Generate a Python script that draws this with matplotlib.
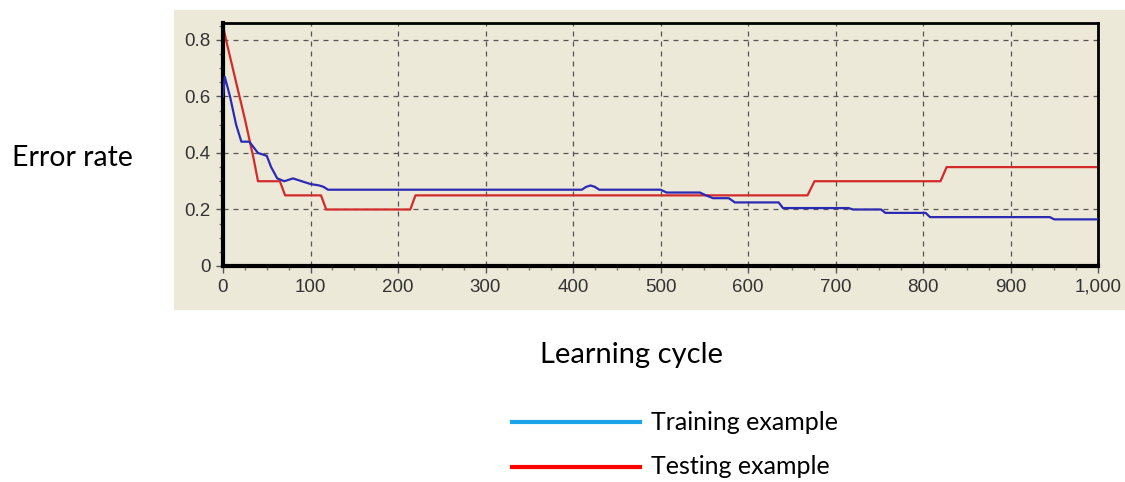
import matplotlib.pyplot as plt
from matplotlib.patches import Rectangle
from matplotlib.lines import Line2D
from matplotlib.ticker import FuncFormatter, MultipleLocator

# training curve (blue)
train_x = [0, 2, 8, 15, 21, 30, 35, 40, 50, 55, 62, 70, 80, 90, 100, 110, 115, 120,
           410, 415, 420, 425, 430, 500, 507, 545, 552, 560, 578, 585, 635, 640,
           715, 720, 752, 757, 803, 808, 945, 950, 1000]
train_y = [0.60, 0.67, 0.60, 0.50, 0.44, 0.44, 0.42, 0.40, 0.39, 0.35, 0.31, 0.30, 0.31, 0.30, 0.29, 0.285, 0.28, 0.27,
           0.27, 0.28, 0.285, 0.28, 0.27, 0.27, 0.26, 0.26, 0.25, 0.24, 0.24, 0.225, 0.225, 0.205,
           0.205, 0.20, 0.20, 0.188, 0.188, 0.173, 0.173, 0.165, 0.165]

# testing curve (red)
test_x = [0, 5, 15, 25, 35, 40, 65, 71, 112, 118, 214, 220, 668, 676, 820, 827, 1000]
test_y = [0.85, 0.78, 0.65, 0.52, 0.38, 0.30, 0.30, 0.25, 0.25, 0.20, 0.20, 0.25, 0.25, 0.30, 0.30, 0.35, 0.35]

x_ticks = [0, 100, 200, 300, 400, 500, 600, 700, 800, 900, 1000]
y_ticks = [0, 0.2, 0.4, 0.6, 0.8]
labels = ["Training example", "Testing example"]

panel = "#ECE9D8"
W, H = 1125, 482
fig = plt.figure(figsize=(W / 100, H / 100), dpi=100)
fig.patch.set_facecolor("white")

# beige panel behind the chart
fig.add_artist(Rectangle((174 / W, 1 - 310 / H), (W - 174) / W, 300 / H,
                         transform=fig.transFigure, facecolor=panel, edgecolor="none", zorder=0))

ax = fig.add_axes([223 / W, 1 - 266 / H, (1098 - 223) / W, (266 - 23) / H])
ax.set_facecolor(panel)
ax.plot(train_x, train_y, color="#2a2ab4", lw=1.6, zorder=3)
ax.plot(test_x, test_y, color="#d42a2a", lw=1.6, zorder=2)

ax.set_xlim(0, 1000)
ax.set_ylim(0, 0.86)
ax.set_xticks(x_ticks)
ax.set_yticks(y_ticks)
ax.xaxis.set_minor_locator(MultipleLocator(25))
ax.yaxis.set_minor_locator(MultipleLocator(0.05))
ax.xaxis.set_major_formatter(FuncFormatter(lambda v, p: f"{int(v):,}"))
ax.yaxis.set_major_formatter(FuncFormatter(lambda v, p: "0" if v == 0 else f"{v:.1f}"))
ax.tick_params(which="major", direction="out", length=5, width=1, color="#555555",
               labelsize=13.5, labelcolor="#333333", pad=4)
ax.tick_params(which="minor", direction="out", length=3, width=1, color="#777777")
for t in ax.get_xticklabels() + ax.get_yticklabels():
    t.set_family("Liberation Sans")

ax.grid(True, which="major", color="#555555", linestyle=(0, (4, 4)), lw=0.9)
for side, lw in [("left", 3), ("bottom", 3), ("top", 2), ("right", 2)]:
    ax.spines[side].set_linewidth(lw)
    ax.spines[side].set_color("black")

font = "Lato"
fig.text(12 / W, 1 - 158 / H, "Error rate", fontsize=20.5, family=font, va="center", ha="left")
fig.text(631 / W, 1 - 355 / H, "Learning cycle", fontsize=21, family=font, va="center", ha="center")

# legend drawn below the chart
for lbl, col, yy in [(labels[0], "#1aa3e8", 422), (labels[1], "#ff0000", 467)]:
    fig.add_artist(Line2D([512 / W, 640 / W], [1 - yy / H, 1 - yy / H], color=col, lw=3,
                          transform=fig.transFigure))
    fig.text(651 / W, 1 - yy / H, lbl, fontsize=18, family=font, va="center", ha="left")

fig.savefig("out.png", dpi=100)
